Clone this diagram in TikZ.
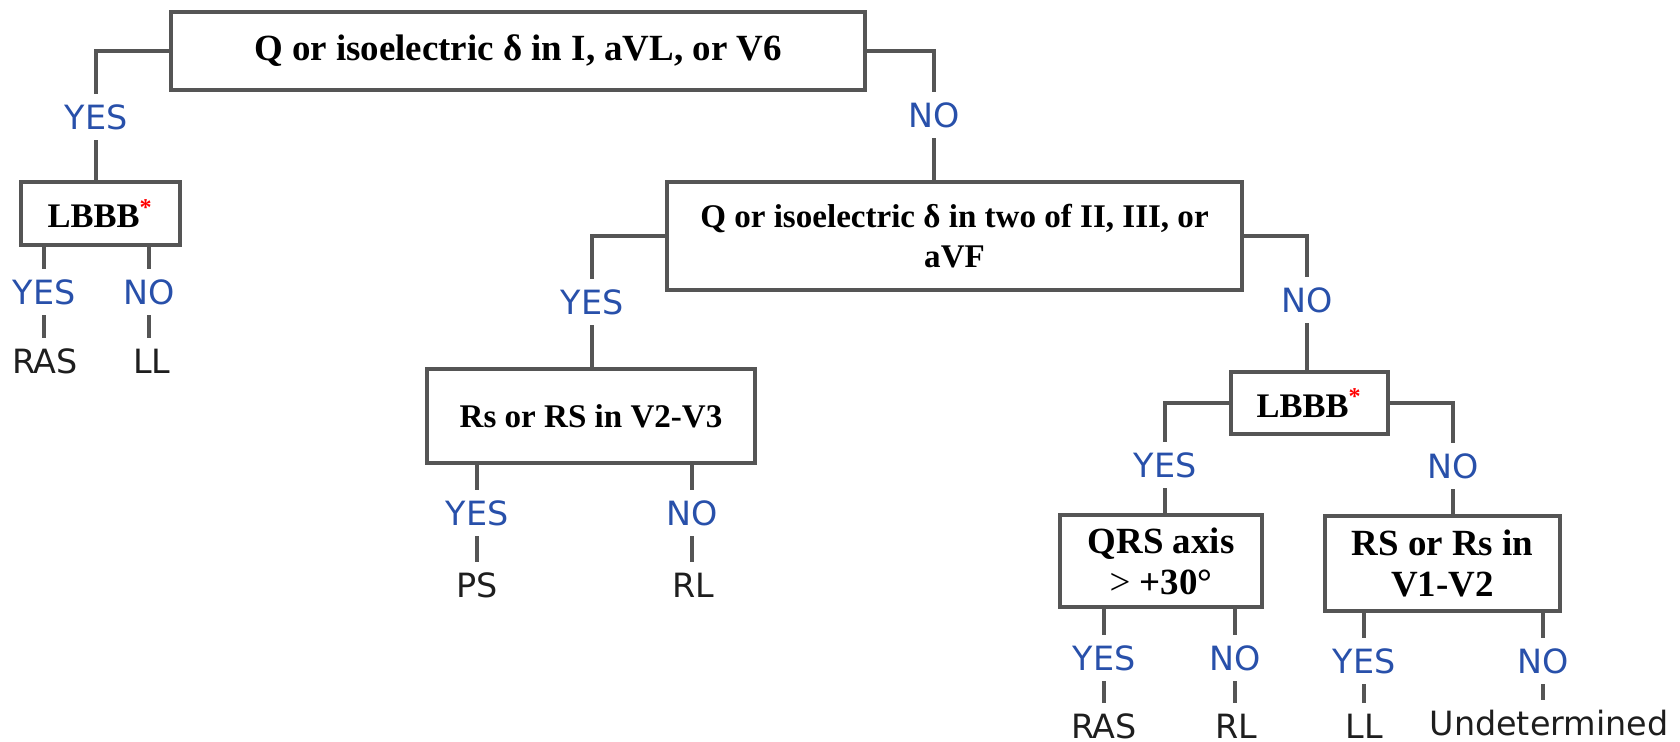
\documentclass[tikz,border=0pt]{standalone}
\usepackage{fontspec}
\setmainfont{Liberation Serif}
\setsansfont{DejaVu Sans}
\usepackage{xcolor}
\usepackage{tikz}
\usetikzlibrary{positioning, calc}

\definecolor{ynblue}{RGB}{40,80,170}
\definecolor{linegray}{RGB}{85,85,85}
\definecolor{leaftext}{RGB}{30,30,30}

\begin{document}
\begin{tikzpicture}[
    x=0.01cm, y=-0.01cm,
    block/.style={rectangle, draw=linegray, line width=1.1pt, fill=white,
                  align=center, inner sep=2pt,
                  font=\fontsize{#1}{11.6}\selectfont\bfseries},
    block/.default={10.5},
    yn/.style={font=\fontsize{9.5}{10}\selectfont\sffamily, text=ynblue, inner sep=2.8pt},
    leaf/.style={font=\fontsize{9.5}{10}\selectfont\sffamily, text=leaftext, inner sep=2.8pt},
    conn/.style={draw=linegray, line width=0.9pt}
]
\useasboundingbox (0,0) rectangle (1680,741);

% --- Question boxes ---
\node[block, minimum width=6.94cm, minimum height=0.78cm] (top) at (518,51)
    {Q or isoelectric δ in I, aVL, or V6};
\node[block=9.8, minimum width=1.59cm, minimum height=0.63cm] (lbbbA) at (100.5,213.5)
    {LBBB\textsuperscript{\textcolor{red}{*}}};
\node[block=9.4, minimum width=5.75cm, minimum height=1.08cm] (two) at (954.5,236)
    {Q or isoelectric δ in two of II, III, or\\aVF};
\node[block=9.4, minimum width=3.28cm, minimum height=0.94cm] (rsA) at (591,416)
    {Rs or RS in V2-V3};
\node[block=9.8, minimum width=1.57cm, minimum height=0.62cm] (lbbbB) at (1309.5,403)
    {LBBB\textsuperscript{\textcolor{red}{*}}};
\node[block, minimum width=2.02cm, minimum height=0.92cm] (qrs) at (1161,561)
    {QRS axis\\\textmd{>} +30°};
\node[block, minimum width=2.35cm, minimum height=0.95cm] (rsB) at (1442.5,563.5)
    {RS or Rs in\\V1-V2};

% --- Branch labels between boxes ---
\node[yn] (yA) at (96,117) {YES};
\node[yn] (nA) at (934,115) {NO};
\node[yn] (yB) at (592,302) {YES};
\node[yn] (nB) at (1307,300) {NO};
\node[yn] (yC) at (1165,465) {YES};
\node[yn] (nC) at (1453,466) {NO};

% --- Branch labels and outcomes under boxes ---
\node[yn] (yA1) at (44,292) {YES};
\node[yn] (nA1) at (149,292) {NO};
\node[leaf] (rasA) at (45,361) {RAS};
\node[leaf] (llA) at (152,361) {LL};

\node[yn] (yB1) at (477,513) {YES};
\node[yn] (nB1) at (692,513) {NO};
\node[leaf] (psB) at (477,585) {PS};
\node[leaf] (rlB) at (693,585) {RL};

\node[yn] (yC1) at (1104,658) {YES};
\node[yn] (nC1) at (1235,658) {NO};
\node[leaf] (rasC) at (1104,726) {RAS};
\node[leaf] (rlC) at (1236,726) {RL};

\node[yn] (yD1) at (1364,661) {YES};
\node[yn] (nD1) at (1543,661) {NO};
\node[leaf] (llD) at (1364,726) {LL};
\node[leaf] (undD) at (1549,723) {Undetermined};

% --- Connectors: box to box ---
\draw[conn] (top.west) -| (yA.north);
\draw[conn] (yA.south) -- (yA.south |- lbbbA.north);
\draw[conn] (top.east) -| (nA.north);
\draw[conn] (nA.south) -- (nA.south |- two.north);
\draw[conn] (two.west) -| (yB.north);
\draw[conn] (yB.south) -- (yB.south |- rsA.north);
\draw[conn] (two.east) -| (nB.north);
\draw[conn] (nB.south) -- (nB.south |- lbbbB.north);
\draw[conn] (lbbbB.west) -| (yC.north);
\draw[conn] (yC.south) -- (yC.south |- qrs.north);
\draw[conn] (lbbbB.east) -| (nC.north);
\draw[conn] (nC.south) -- (nC.south |- rsB.north);

% --- Connectors: box to outcome ---
\draw[conn] (yA1.north |- lbbbA.south) -- (yA1.north);
\draw[conn] (yA1.south) -- (yA1.south |- rasA.north);
\draw[conn] (nA1.north |- lbbbA.south) -- (nA1.north);
\draw[conn] (nA1.south) -- (nA1.south |- llA.north);

\draw[conn] (yB1.north |- rsA.south) -- (yB1.north);
\draw[conn] (yB1.south) -- (yB1.south |- psB.north);
\draw[conn] (nB1.north |- rsA.south) -- (nB1.north);
\draw[conn] (nB1.south) -- (nB1.south |- rlB.north);

\draw[conn] (yC1.north |- qrs.south) -- (yC1.north);
\draw[conn] (yC1.south) -- (yC1.south |- rasC.north);
\draw[conn] (nC1.north |- qrs.south) -- (nC1.north);
\draw[conn] (nC1.south) -- (nC1.south |- rlC.north);

\draw[conn] (yD1.north |- rsB.south) -- (yD1.north);
\draw[conn] (yD1.south) -- (yD1.south |- llD.north);
\draw[conn] (nD1.north |- rsB.south) -- (nD1.north);
\draw[conn] (nD1.south) -- (nD1.south |- undD.north);

\end{tikzpicture}
\end{document}
